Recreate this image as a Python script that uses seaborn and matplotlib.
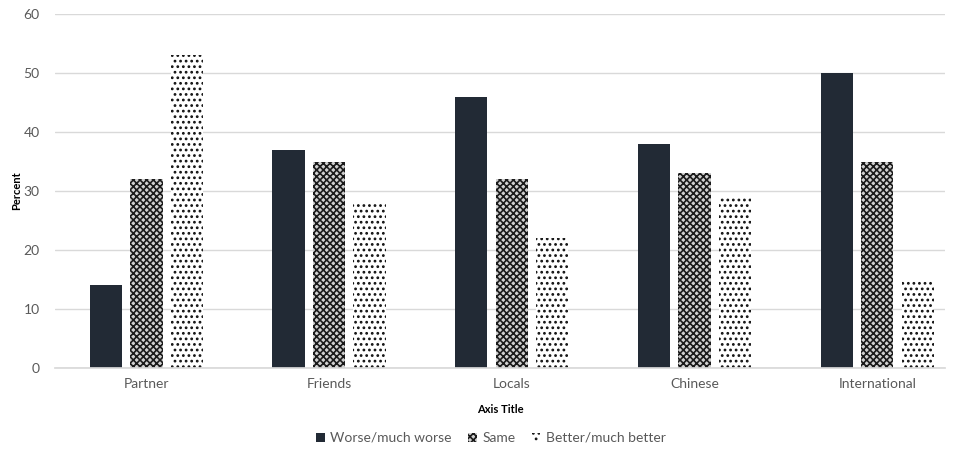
import matplotlib
matplotlib.use("Agg")
import matplotlib.pyplot as plt
import matplotlib.patches as mpatches
import seaborn as sns
import pandas as pd

categories = ["Partner", "Friends", "Locals", "Chinese", "International"]
series = ["Worse/much worse", "Same", "Better/much better"]
worse = [14, 37, 46, 38, 50]
same = [32, 35, 32, 33, 35]
better = [53, 28, 22, 29, 15]

rows = []
for name, vals in zip(series, [worse, same, better]):
    for cat, v in zip(categories, vals):
        rows.append({"Category": cat, "Series": name, "Percent": v})
df = pd.DataFrame(rows)

sns.set_theme(style="white")
plt.rcParams["font.family"] = ["Lato", "DejaVu Sans"]
plt.rcParams["hatch.linewidth"] = 1.2

fig = plt.figure(figsize=(9.57, 4.54), dpi=100)
ax = fig.add_axes([55 / 957, 1 - 368 / 454, 890 / 957, 354 / 454])

dark = "#222a35"
sns.barplot(data=df, x="Category", y="Percent", hue="Series", order=categories,
            hue_order=series, palette=[dark, "white", "white"], width=0.665,
            gap=0.2, ax=ax, legend=False, saturation=1)

styles = [
    dict(facecolor=dark, edgecolor=dark, hatch=None),
    dict(facecolor="#d0d0d0", edgecolor="#1a1a1a", hatch="xxxxx"),
    dict(facecolor="white", edgecolor="#111111", hatch="..."),
]
for cont, st in zip(ax.containers, styles):
    for bar in cont:
        bar.set_facecolor(st["facecolor"])
        bar.set_edgecolor(st["edgecolor"])
        bar.set_linewidth(0)
        if st["hatch"]:
            bar.set_hatch(st["hatch"])

ax.set_ylim(0, 60)
ax.set_yticks(range(0, 61, 10))
ax.set_xlim(-0.5, 4.371)
ax.yaxis.grid(True, color="#d9d9d9", linewidth=1)
ax.set_axisbelow(True)
for s in ["top", "right", "left"]:
    ax.spines[s].set_visible(False)
ax.spines["bottom"].set_color("#d9d9d9")
ax.tick_params(axis="x", length=0, labelsize=10, labelcolor="#595959", pad=7)
ax.tick_params(axis="y", length=0, labelsize=10, labelcolor="#595959", pad=11)
ax.set_xlabel("Axis Title", fontsize=8, fontweight="bold", color="black", labelpad=10)
ax.set_ylabel("Percent", fontsize=8, fontweight="bold", color="black", labelpad=1)

handles = [mpatches.Patch(facecolor=st["facecolor"], edgecolor=st["edgecolor"],
                          hatch=st["hatch"], linewidth=0) for st in styles]
fig.legend(handles, series, loc="center", bbox_to_anchor=(0.513, 1 - 438 / 454),
           ncol=3, frameon=False, fontsize=10, handlelength=0.6, handleheight=0.6,
           handletextpad=0.4, columnspacing=1.2, labelcolor="#595959")

fig.savefig("out.png", dpi=100)
